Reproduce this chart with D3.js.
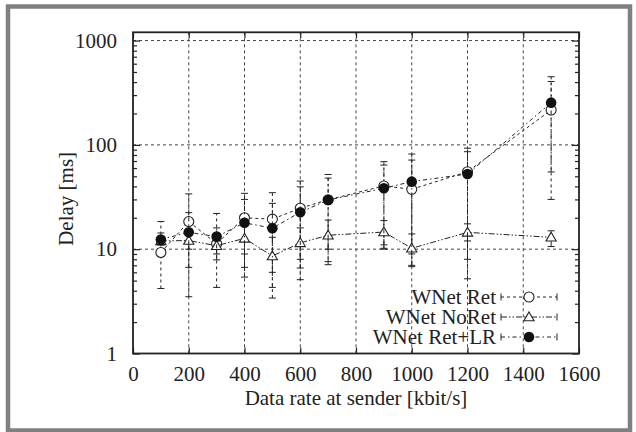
<!DOCTYPE html>
<html>
<head>
<meta charset="utf-8">
<script src="https://cdn.jsdelivr.net/npm/d3@7"></script>
<style>
  body { margin: 0; background: #fff; }
  text { font-family: "Liberation Serif", "Times New Roman", serif; fill: #222; }
</style>
</head>
<body>
<svg id="chart" width="636" height="432"></svg>
<script>
const rates = [100, 200, 300, 400, 500, 600, 700, 900, 1000, 1200, 1500]

const retDelay = [9.3, 18.4, 11.3, 20.0, 19.4, 24.7, 29.8, 40.4, 37.5, 55.3, 216]
const retLow = [4.2, 3.5, 4.3, 5.4, 3.4, 5.1, 7.1, 10.0, 7.0, 5.2, 30]
const retHigh = [18.4, 33.9, 22, 34.3, 34.8, 45, 52, 69, 81.7, 93, 450]

const noRetDelay = [12.0, 12.1, 10.8, 12.7, 8.6, 11.5, 13.6, 14.6, 10.2, 14.5, 13.0]
const noRetLow = [11, 10, 9, 9, 6, 8, 10, 10.2, 6.8, 12, 10.6]
const noRetHigh = [13, 14, 12, 17, 13, 16, 19, 18.8, 14, 17.5, 15]

const lrDelay = [12.4, 14.5, 13.2, 17.9, 15.9, 22.6, 29.6, 38.4, 44.4, 52.6, 254]
const lrLow = [11, 6.7, 7.9, 6.7, 4.3, 6.6, 7.6, 11, 9, 8, 55]
const lrHigh = [14.3, 22.4, 16, 30, 27.5, 39.6, 48, 64, 71.5, 86, 405]

const xTicks = [0, 200, 400, 600, 800, 1000, 1200, 1400, 1600]
const yTicks = [1, 10, 100, 1000]
const seriesNames = ["WNet Ret", "WNet NoRet", "WNet Ret+LR"]

const plotLeft = 133, plotRight = 579, plotTop = 32.3, plotBottom = 353.5
const ink = "#222"
const fontSize = 21

const svg = d3.select("#chart")

// outer gray frame
svg.append("rect")
  .attr("x", 8).attr("y", 6.5)
  .attr("width", 622).attr("height", 424)
  .attr("fill", "white")
  .attr("stroke", "#808080")
  .attr("stroke-width", 4.5)

const x = d3.scaleLinear().domain([0, 1600]).range([plotLeft, plotRight])
const y = d3.scaleLog().domain([1, 1200]).range([plotBottom, plotTop])

// grid
svg.append("g").selectAll("line")
  .data(xTicks.filter(d => d > 0 && d < 1600))
  .join("line")
  .attr("x1", d => x(d)).attr("x2", d => x(d))
  .attr("y1", plotTop).attr("y2", plotBottom)
  .attr("stroke", "#444").attr("stroke-width", 1)
  .attr("stroke-dasharray", "3,3")

svg.append("g").selectAll("line")
  .data(yTicks.filter(d => d > 1))
  .join("line")
  .attr("x1", plotLeft).attr("x2", plotRight)
  .attr("y1", d => y(d)).attr("y2", d => y(d))
  .attr("stroke", "#444").attr("stroke-width", 1)
  .attr("stroke-dasharray", "3,3")

// axes with inward ticks
const yMinor = y.ticks().filter(d => !yTicks.includes(d))

svg.append("g")
  .attr("transform", `translate(0,${plotBottom})`)
  .call(d3.axisBottom(x).tickValues(xTicks).tickSize(-6).tickPadding(13).tickFormat(d3.format("d")))
svg.append("g")
  .attr("transform", `translate(0,${plotTop})`)
  .call(d3.axisTop(x).tickValues(xTicks).tickSize(-6).tickFormat(""))
svg.append("g")
  .attr("transform", `translate(${plotLeft},0)`)
  .call(d3.axisLeft(y).tickValues(yTicks).tickSize(-7).tickPadding(16).tickFormat(d3.format("d")))
svg.append("g")
  .attr("transform", `translate(${plotRight},0)`)
  .call(d3.axisRight(y).tickValues(yTicks).tickSize(-7).tickFormat(""))
svg.append("g")
  .attr("transform", `translate(${plotLeft},0)`)
  .call(d3.axisLeft(y).tickValues(yMinor).tickSize(-4).tickFormat(""))
svg.append("g")
  .attr("transform", `translate(${plotRight},0)`)
  .call(d3.axisRight(y).tickValues(yMinor).tickSize(-4).tickFormat(""))

svg.selectAll(".domain").remove()
svg.selectAll(".tick line").attr("stroke", ink).attr("stroke-width", 1.2)
svg.selectAll(".tick text")
  .style("font-family", "'Liberation Serif', serif")
  .style("font-size", fontSize + "px")
  .attr("fill", ink)

svg.append("rect")
  .attr("x", plotLeft).attr("y", plotTop)
  .attr("width", plotRight - plotLeft).attr("height", plotBottom - plotTop)
  .attr("fill", "none").attr("stroke", ink).attr("stroke-width", 1.8)

// axis titles
svg.append("text")
  .attr("x", (plotLeft + plotRight) / 2).attr("y", 405)
  .attr("text-anchor", "middle")
  .style("font-size", fontSize + "px")
  .text("Data rate at sender [kbit/s]")

svg.append("text")
  .attr("transform", `translate(73,${(plotTop + plotBottom) / 2 + 6}) rotate(-90)`)
  .attr("text-anchor", "middle")
  .style("font-size", fontSize + "px")
  .text("Delay [ms]")

// series
const series = [
  {name: seriesNames[0], mid: retDelay, low: retLow, high: retHigh, dash: "3,3", marker: "circle"},
  {name: seriesNames[1], mid: noRetDelay, low: noRetLow, high: noRetHigh, dash: "6,2,1.5,2,1.5,2", marker: "triangle"},
  {name: seriesNames[2], mid: lrDelay, low: lrLow, high: lrHigh, dash: "4,3,1.5,3", marker: "dot"}
]

const line = d3.line().x(d => x(d.r)).y(d => y(d.v))

function drawMarker(g, kind, cx, cy) {
  if (kind === "circle") {
    g.append("circle").attr("cx", cx).attr("cy", cy).attr("r", 5)
      .attr("fill", "white").attr("stroke", ink).attr("stroke-width", 1.1)
  } else if (kind === "dot") {
    g.append("circle").attr("cx", cx).attr("cy", cy).attr("r", 5.3)
      .attr("fill", "#111")
  } else {
    g.append("path")
      .attr("d", d3.symbol(d3.symbolTriangle, 45)())
      .attr("transform", `translate(${cx},${cy + 0.8})`)
      .attr("fill", "white").attr("stroke", ink).attr("stroke-width", 1.1)
  }
}

series.forEach(s => {
  const pts = rates.map((r, i) => ({r, v: s.mid[i], lo: s.low[i], hi: s.high[i]}))
  const g = svg.append("g")

  g.selectAll(".bar")
    .data(pts)
    .join("line")
    .attr("x1", d => x(d.r)).attr("x2", d => x(d.r))
    .attr("y1", d => y(d.lo)).attr("y2", d => y(d.hi))
    .attr("stroke", ink).attr("stroke-width", 1)
    .attr("stroke-dasharray", s.dash)

  g.selectAll(".cap")
    .data(pts.flatMap(d => [d.lo, d.hi].map(v => ({r: d.r, v}))))
    .join("line")
    .attr("x1", d => x(d.r) - 3.5).attr("x2", d => x(d.r) + 3.5)
    .attr("y1", d => y(d.v)).attr("y2", d => y(d.v))
    .attr("stroke", ink).attr("stroke-width", 1)

  g.append("path")
    .datum(pts)
    .attr("d", line)
    .attr("fill", "none")
    .attr("stroke", ink).attr("stroke-width", 1)
    .attr("stroke-dasharray", s.dash)

  pts.forEach(d => drawMarker(g, s.marker, x(d.r), y(d.v)))
})

// legend
const legendY = [297, 317, 337]
series.forEach((s, i) => {
  const ly = legendY[i]
  const g = svg.append("g")
  g.append("text")
    .attr("x", 496).attr("y", ly + 7)
    .attr("text-anchor", "end")
    .style("font-size", fontSize + "px")
    .text(s.name)
  g.append("line")
    .attr("x1", 501).attr("x2", 557)
    .attr("y1", ly).attr("y2", ly)
    .attr("stroke", ink).attr("stroke-width", 1)
    .attr("stroke-dasharray", s.dash)
  ;[501, 557].forEach(ex => g.append("line")
    .attr("x1", ex).attr("x2", ex)
    .attr("y1", ly - 3.5).attr("y2", ly + 3.5)
    .attr("stroke", ink).attr("stroke-width", 1))
  drawMarker(g, s.marker, 529, ly)
})
</script>
</body>
</html>
